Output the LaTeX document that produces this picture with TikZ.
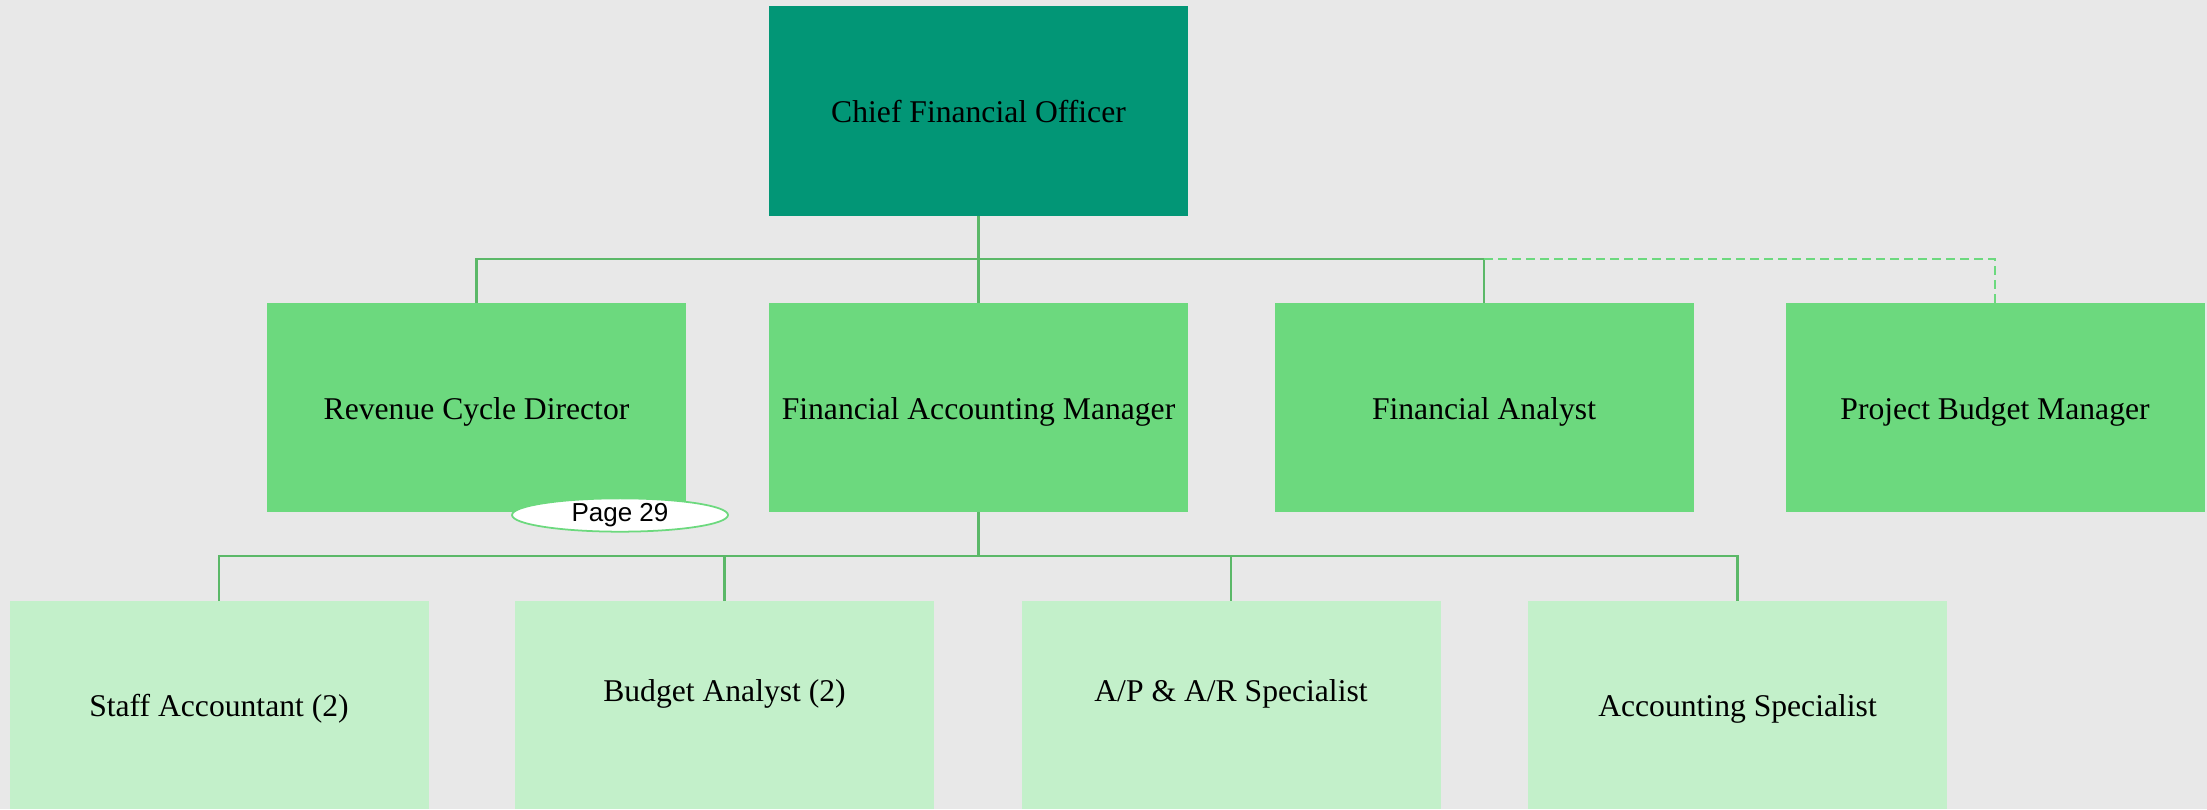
\documentclass[tikz,border=0pt]{standalone}
\usepackage{fontspec}
\setmainfont{Liberation Serif}
\newfontfamily\tagfont{Liberation Sans}
\usetikzlibrary{shapes.geometric}

\definecolor{paper}{HTML}{E8E8E8}
\definecolor{topgreen}{HTML}{029676}
\definecolor{midgreen}{HTML}{6CD97E}
\definecolor{lowgreen}{HTML}{C3F0CA}
\definecolor{linkgreen}{HTML}{5BB868}

\begin{document}
\begin{tikzpicture}[x=0.1mm, y=-0.1mm,
    box/.style={rectangle, inner sep=0pt, outer sep=0pt, minimum width=41.9mm,
      align=center, font=\fontsize{9}{11}\selectfont},
    topbox/.style={box, fill=topgreen, minimum height=21mm},
    midbox/.style={box, fill=midgreen, minimum height=20.9mm,
      text height=3.0mm, text depth=0.7mm},
    lowbox/.style={box, fill=lowgreen, minimum height=20.8mm,
      text height=3.0mm, text depth=0.7mm},
    raised/.style={text depth=3.7mm},
    link/.style={draw=linkgreen, line width=0.6pt},
    dashlink/.style={draw=midgreen, line width=0.4pt, dash pattern=on 0.9mm off 0.5mm}]

        \path[use as bounding box, fill=paper] (0,0) rectangle (2207,809);

        % chart
        \node[topbox] (1) at (978.5,111)   {Chief Financial Officer};

        \begin{scope}[every node/.style={midbox}]
          \node (2) at (476.5,407.5)  {Revenue Cycle Director};
          \node (3) at (978.5,407.5)  {Financial Accounting Manager};
          \node (4) at (1484,407.5)   {Financial Analyst};
          \node (5) at (1995,407.5)   {Project Budget Manager};
        \end{scope}

        \begin{scope}[every node/.style={lowbox}]
          \node (6) at (219,705)             {Staff Accountant (2)};
          \node[raised] (7) at (724.5,705)   {Budget Analyst (2)};
          \node[raised] (8) at (1231,705)    {A/P \& A/R Specialist};
          \node (9) at (1737.5,705)          {Accounting Specialist};
        \end{scope}

        \coordinate (b1) at (0,259);
        \coordinate (b2) at (0,556);

        \path[link] (1.south) -- (1.south |- b1) -| (2.north);
        \path[link] (1.south |- b1) -| (4.north);
        \path[link] (1.south) -- (3.north);
        \path[dashlink] (4.north |- b1) -| (5.north);

        \path[link] (3.south) -- (3.south |- b2) -| (6.north);
        \path[link] (3.south |- b2) -| (9.north);
        \path[link] (7.north |- b2) -- (7.north);
        \path[link] (8.north |- b2) -- (8.north);

        \node[ellipse, draw=midgreen, line width=0.5pt, fill=white, inner sep=0pt,
          minimum width=21.6mm, minimum height=3.1mm,
          font=\tagfont\fontsize{7.4}{8}\selectfont] (p) at (620,515) {Page 29};

      \end{tikzpicture}
\end{document}
